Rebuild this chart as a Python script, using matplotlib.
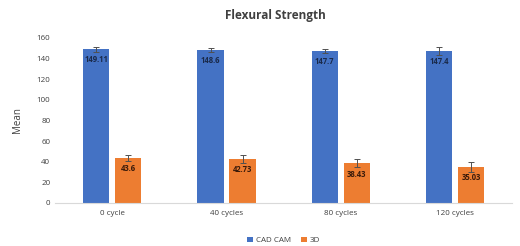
import numpy as np
import matplotlib
matplotlib.use("Agg")
import matplotlib.pyplot as plt

plt.rcParams['font.family'] = ['Open Sans', 'DejaVu Sans']

categories = ['0 cycle', '40 cycles', '80 cycles', '120 cycles']
cad_cam = [149.11, 148.6, 147.7, 147.4]
print_3d = [43.6, 42.73, 38.43, 35.03]
cad_err = [2.5, 2.0, 2.0, 4.0]
print_err = [3.0, 4.0, 4.0, 5.0]
cad_labels = ['149.11', '148.6', '147.7', '147.4']
print_labels = ['43.6', '42.73', '38.43', '35.03']

BLUE = '#4472C4'
ORANGE = '#ED7D31'

fig = plt.figure(figsize=(5.2, 2.46), dpi=100)
ax = fig.add_axes([0.106, 0.175, 0.879, 0.671])

x = np.arange(len(categories))
w = 0.23
off = 0.14
ekw = dict(elinewidth=0.7, capthick=0.7, ecolor='#505050')
ax.bar(x - off, cad_cam, w, color=BLUE, yerr=cad_err, capsize=2,
       error_kw=ekw, label='CAD CAM')
ax.bar(x + off, print_3d, w, color=ORANGE, yerr=print_err, capsize=2,
       error_kw=ekw, label='3D')

# data labels sit just inside the bar end
for xi, v, s in zip(x - off, cad_cam, cad_labels):
    ax.text(xi, v - 10.5, s, ha='center', va='center', fontsize=5.5,
            fontweight='bold', color='#1a2a4a')
for xi, v, s in zip(x + off, print_3d, print_labels):
    ax.text(xi, v - 10.5, s, ha='center', va='center', fontsize=5.5,
            fontweight='bold', color='#3a1a0a')

ax.set_ylim(0, 160)
ax.set_xlim(-0.5, 3.5)
ax.set_yticks(range(0, 161, 20))
ax.set_xticks(x)
ax.set_xticklabels(categories)
ax.tick_params(axis='both', labelsize=5.8, length=0, colors='#404040')
ax.tick_params(axis='x', pad=5)
ax.set_ylabel('Mean', fontsize=7, color='#404040', labelpad=10)
for sp in ['top', 'right', 'left']:
    ax.spines[sp].set_visible(False)
ax.spines['bottom'].set_color('#d9d9d9')

fig.suptitle('Flexural Strength', x=0.53, y=0.965, fontsize=8.5, fontweight='bold', color='#404040')
ax.legend(loc='upper center', bbox_to_anchor=(0.5, -0.16), ncol=2, frameon=False,
          fontsize=5.8, handlelength=0.7, handleheight=0.7, columnspacing=1.2,
          handletextpad=0.4, labelcolor='#404040')

fig.savefig('out.png', dpi=100)
